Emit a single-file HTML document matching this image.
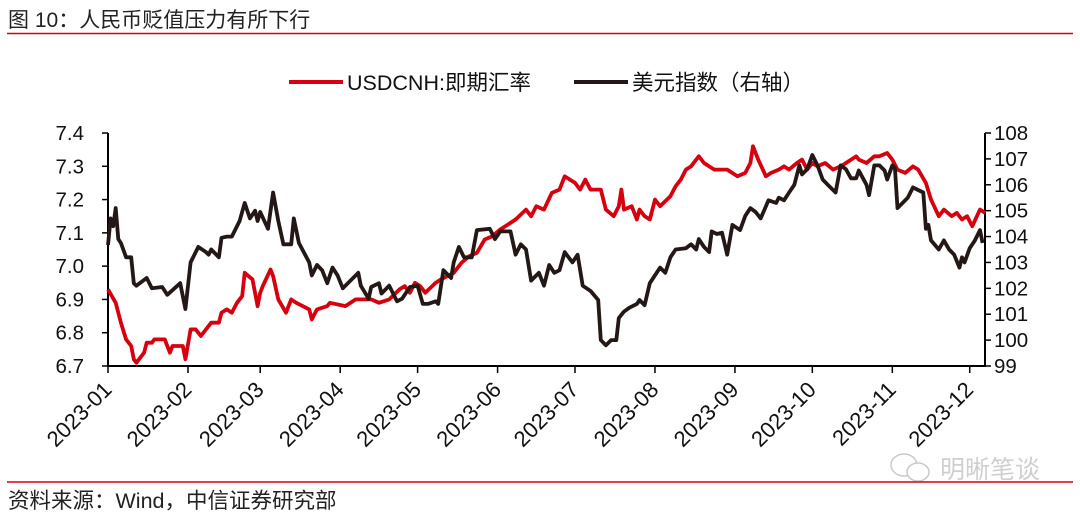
<!DOCTYPE html>
<html><head><meta charset="utf-8"><style>
body{margin:0;background:#fff;width:1080px;height:519px;overflow:hidden;font-family:"Liberation Sans","Noto Sans CJK SC",sans-serif;}
svg{display:block}
</style></head><body>
<svg id="chart" width="1080" height="519" xmlns="http://www.w3.org/2000/svg" font-family="Liberation Sans, Noto Sans CJK SC, sans-serif">
<text x="8" y="27" font-size="21" fill="#222">图 10：人民币贬值压力有所下行</text>
<line x1="7" y1="33.5" x2="1073" y2="33.5" stroke="#d7000f" stroke-width="1.5"/>
<g>
<g><line x1="289" y1="82" x2="343" y2="82" stroke="#d7000f" stroke-width="4"/><text x="347" y="90" font-size="21.5" fill="#111">USDCNH:即期汇率</text></g>
<g><line x1="574" y1="82" x2="628" y2="82" stroke="#231815" stroke-width="4"/><text x="632" y="90" font-size="21.5" fill="#111">美元指数（右轴）</text></g>
</g>
<g id="axes"></g>
<g id="series"></g>
<line x1="7" y1="482" x2="1073" y2="482" stroke="#d7000f" stroke-width="1.5"/>
<text x="8" y="508" font-size="21.5" fill="#222">资料来源：Wind，中信证券研究部</text>
<g opacity="0.35">
<ellipse cx="904" cy="465" rx="13" ry="11" fill="none" stroke="#666" stroke-width="1.5"/>
<ellipse cx="918" cy="472" rx="11" ry="9" fill="#fff" stroke="#666" stroke-width="1.5"/>
<text x="940" y="478" font-size="25" fill="#777">明晰笔谈</text>
</g>
</svg>
<script>
const monthLabels = ["2023-01","2023-02","2023-03","2023-04","2023-05","2023-06","2023-07","2023-08","2023-09","2023-10","2023-11","2023-12"];
const monthStartDays = [0,31,59,90,120,151,181,212,243,273,304,334];
const leftTicks = [6.7,6.8,6.9,7.0,7.1,7.2,7.3,7.4];
const rightTicks = [99,100,101,102,103,104,105,106,107,108];
const cnhDays = [0,3,5,7,9,10,11,14,15,17,18,21,22,24,25,29,30,32,34,36,38,40,43,44,46,48,50,52,53,56,58,59,60,63,64,66,69,71,73,78,79,81,85,86,92,96,102,105,109,113,115,117,119,121,123,127,129,134,137,140,143,146,149,152,156,158,162,164,166,169,172,175,177,181,183,185,187,191,193,196,198,199,200,203,205,206,208,210,212,214,218,220,222,224,226,228,229,231,233,235,238,240,244,247,249,250,252,255,257,260,262,264,267,269,271,273,275,278,281,284,286,290,291,294,297,299,302,304,306,309,312,314,317,319,322,324,327,329,331,333,335,338,340];
const cnhValues = [6.93,6.89,6.83,6.78,6.76,6.72,6.71,6.74,6.77,6.77,6.78,6.78,6.78,6.74,6.76,6.76,6.72,6.81,6.81,6.79,6.81,6.83,6.83,6.86,6.87,6.86,6.89,6.91,6.98,6.96,6.88,6.92,6.94,6.99,6.97,6.90,6.86,6.90,6.89,6.87,6.84,6.87,6.88,6.89,6.88,6.90,6.90,6.89,6.90,6.93,6.94,6.92,6.95,6.94,6.92,6.95,6.96,6.98,7.01,7.03,7.04,7.08,7.09,7.11,7.13,7.14,7.17,7.15,7.18,7.17,7.22,7.23,7.27,7.25,7.23,7.26,7.23,7.23,7.17,7.15,7.18,7.23,7.17,7.18,7.14,7.17,7.15,7.14,7.20,7.18,7.21,7.24,7.26,7.29,7.30,7.32,7.33,7.31,7.30,7.29,7.29,7.29,7.27,7.28,7.31,7.36,7.32,7.27,7.28,7.29,7.30,7.29,7.31,7.32,7.29,7.31,7.30,7.31,7.29,7.30,7.31,7.33,7.32,7.31,7.33,7.33,7.34,7.32,7.29,7.28,7.30,7.29,7.25,7.20,7.15,7.17,7.15,7.16,7.14,7.15,7.12,7.17,7.16];
const dxyDays = [0,1,2,3,4,5,7,9,10,11,15,17,21,23,28,30,32,35,38,39,40,43,44,46,48,51,53,55,57,58,59,62,64,66,68,71,72,74,78,79,81,83,85,87,89,91,93,97,98,101,102,105,106,109,112,114,117,120,122,124,127,128,130,133,134,136,138,141,143,148,150,152,156,158,160,162,164,166,167,169,171,173,175,177,180,182,184,187,190,191,193,195,197,198,200,202,205,206,208,210,214,216,218,220,224,226,228,229,231,233,234,236,238,240,242,245,247,249,251,253,256,259,260,262,264,266,268,269,271,273,274,275,277,279,282,284,286,288,290,291,294,295,297,299,301,302,304,305,306,308,310,312,314,316,317,318,319,322,324,326,328,330,331,332,334,336,338,339];
const dxyValues = [103.67,104.7,104.4,105.1,103.9,103.75,103.2,103.2,102.2,102.1,102.4,102.0,102.05,101.75,102.2,101.2,103.0,103.6,103.4,103.3,103.5,103.2,103.95,104.0,104.0,104.6,105.3,104.7,105.0,104.6,104.95,104.3,105.7,104.6,103.7,103.7,104.7,103.75,103.0,102.5,102.9,102.7,102.2,102.8,102.5,102.0,102.2,102.6,102.1,101.6,102.05,102.2,101.8,102.1,101.5,101.6,102.05,102.1,101.4,101.4,101.5,101.4,102.7,102.4,103.0,103.6,103.2,103.2,104.25,104.3,103.9,104.2,104.2,103.3,103.7,103.5,102.3,102.5,102.6,102.1,102.9,102.6,102.7,103.4,103.0,103.3,102.1,101.9,101.55,100.0,99.8,100.0,100.0,100.85,101.1,101.25,101.4,101.55,101.35,102.2,102.8,102.6,103.2,103.5,103.55,103.7,103.5,103.9,103.6,103.4,104.2,104.1,104.15,103.3,104.45,104.25,104.8,105.1,104.95,104.7,105.4,105.3,105.5,105.4,105.7,106.0,106.75,106.4,106.6,107.15,106.95,106.75,106.2,106.0,105.7,106.75,106.6,106.25,106.25,106.55,106.0,105.6,106.75,106.75,106.55,106.2,106.75,106.65,105.1,105.3,105.5,105.9,105.8,105.7,104.3,104.45,103.85,103.5,103.85,103.5,103.3,102.8,103.2,103.0,103.55,103.85,104.25,103.75];

const NS="http://www.w3.org/2000/svg";
const X0=108, PX_PER_DAY=2.58, YT=133, YB=366, XR=985;
const xScale=d=>X0+d*PX_PER_DAY;
const yLeft=v=>YT+(7.4-v)/0.7*(YB-YT);
const yRight=v=>YT+(108-v)/9*(YB-YT);
function mk(tag,attrs,parent){const e=document.createElementNS(NS,tag);for(const k in attrs)e.setAttribute(k,attrs[k]);parent.appendChild(e);return e;}
const axes=document.getElementById('axes'), series=document.getElementById('series');

const la=mk('line',{x1:X0,y1:YT,x2:X0,y2:YB,stroke:'#000','stroke-width':2},axes);


const ra=mk('line',{x1:XR,y1:YT,x2:XR,y2:YB,stroke:'#000','stroke-width':2},axes);


const xa=mk('line',{x1:X0-1,y1:YB,x2:XR+1,y2:YB,stroke:'#000','stroke-width':2},axes);



leftTicks.forEach(v=>{const y=yLeft(v);
 const t=mk('line',{x1:X0-6,y1:y,x2:X0,y2:y,stroke:'#000','stroke-width':1.5},axes);
 
 
 const l=mk('text',{x:X0-24,y:y+7,'font-size':20.5,'text-anchor':'end',fill:'#111'},axes);
 l.textContent=v.toFixed(1);
 
 
});
rightTicks.forEach(v=>{const y=yRight(v);
 const t=mk('line',{x1:XR,y1:y,x2:XR+6,y2:y,stroke:'#000','stroke-width':1.5},axes);
 
 
 const l=mk('text',{x:XR+9,y:y+7,'font-size':20.5,fill:'#111'},axes);
 l.textContent=String(v);
 
 
});
monthStartDays.forEach((d,i)=>{const x=xScale(d);
 const t=mk('line',{x1:x,y1:YB,x2:x,y2:YB+7,stroke:'#000','stroke-width':1.5},axes);
 
 
 const ax=x+5, ay=YB+25;
 const l=mk('text',{x:ax,y:ay,'font-size':22,'text-anchor':'end',fill:'#111',transform:`rotate(-45 ${ax} ${ay})`},axes);
 l.textContent=monthLabels[i];
 
 
});

function pathFor(days,vals,ys){return days.map((d,i)=>(i?'L':'M')+xScale(d).toFixed(1)+','+ys(vals[i]).toFixed(1)).join('');}
const pc=mk('path',{d:pathFor(cnhDays,cnhValues,yLeft),fill:'none',stroke:'#d7000f','stroke-width':3.8,'stroke-linejoin':'round'},series);


const pd=mk('path',{d:pathFor(dxyDays,dxyValues,yRight),fill:'none',stroke:'#231815','stroke-width':3.8,'stroke-linejoin':'round'},series);


</script>
</body></html>
